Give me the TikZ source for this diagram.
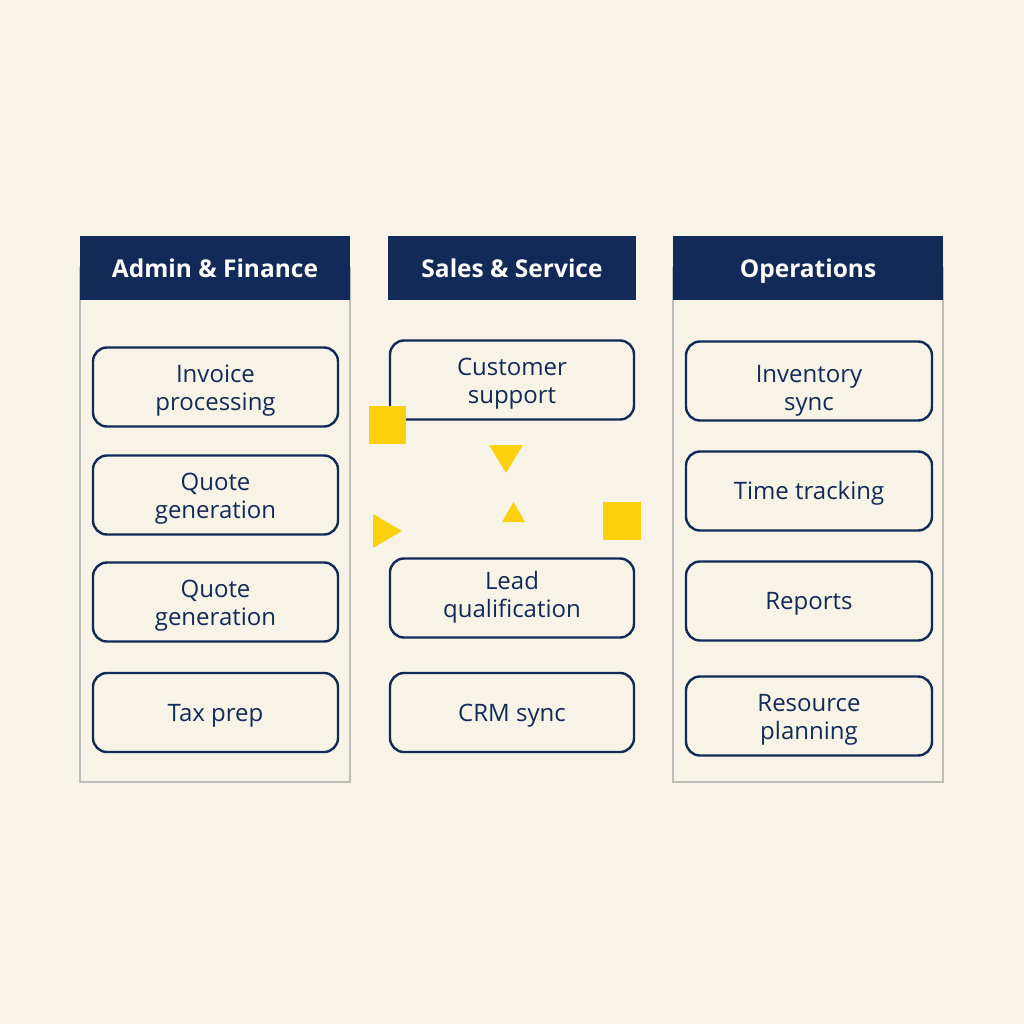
\documentclass[tikz,border=0pt]{standalone}
\usepackage{fontspec}
\setmainfont{Open Sans}
\usetikzlibrary{positioning}
\definecolor{paper}{HTML}{F8F3E7}
\definecolor{navy}{HTML}{132A58}
\definecolor{frame}{HTML}{BDBDBB}
\definecolor{sun}{HTML}{FAD10C}

\tikzset{
  head/.style={fill=navy, text=white, font=\bfseries\fontsize{24.5}{28}\selectfont,
    minimum height=64pt, inner sep=0pt, text height=19.5pt, text depth=0pt},
  task/.style={draw=navy, line width=2.4pt, rounded corners=14pt, text=navy,
    minimum width=245pt, minimum height=79pt, align=center, inner sep=0pt,
    font=\fontsize{24}{28}\selectfont},
  panel/.style={draw=frame, line width=2.4pt}
}

\begin{document}
\begin{tikzpicture}[x=1pt, y=-1pt]
  \fill[paper] (0,0) rectangle (1024,1024);
  \useasboundingbox (0,0) rectangle (1024,1024);

  % panels
  \draw[panel] (80,268) rectangle (350,782);
  \draw[panel] (673,268) rectangle (943,782);

  % headers
  \node[head, minimum width=270pt] (hadmin) at (215,268) {Admin \& Finance};
  \node[head, minimum width=248pt] (hsales) at (512,268) {Sales \& Service};
  \node[head, minimum width=270pt] (hops) at (808,268) {Operations};

  % admin & finance
  \foreach \n/\y/\h/\t in {1/387/52pt/{Invoice\\processing}, 2/495/52pt/{Quote\\generation},
      3/602/52pt/{Quote\\generation}, 4/712.5/23pt/{Tax prep}}
    \node[task, text height=\h] (a\n) at (215.5,\y) {\t};

  % sales & service
  \foreach \n/\y/\h/\t in {1/380/52pt/{Customer\\support}, 2/598/44pt/{Lead\\qualification},
      3/712.5/23pt/{CRM sync}}
    \node[task, text height=\h, minimum width=244pt] (s\n) at (512,\y) {\t};

  % operations
  \foreach \n/\y/\h/\t in {1/381/64pt/{Inventory\\sync}, 2/491/23pt/{Time tracking},
      3/601/23pt/{Reports}, 4/716/52pt/{Resource\\planning}}
    \node[task, text height=\h, minimum width=246pt] (o\n) at (809,\y) {\t};

  % yellow marks
  \fill[sun] (369,406) rectangle (406,444);
  \fill[sun] (603,502) rectangle (641,540);
  \fill[sun] (489,445) -- (523,445) -- (506,473) -- cycle;
  \fill[sun] (502,522) -- (525,522) -- (513.5,502) -- cycle;
  \fill[sun] (373,514) -- (402,531) -- (373,548) -- cycle;
\end{tikzpicture}
\end{document}
